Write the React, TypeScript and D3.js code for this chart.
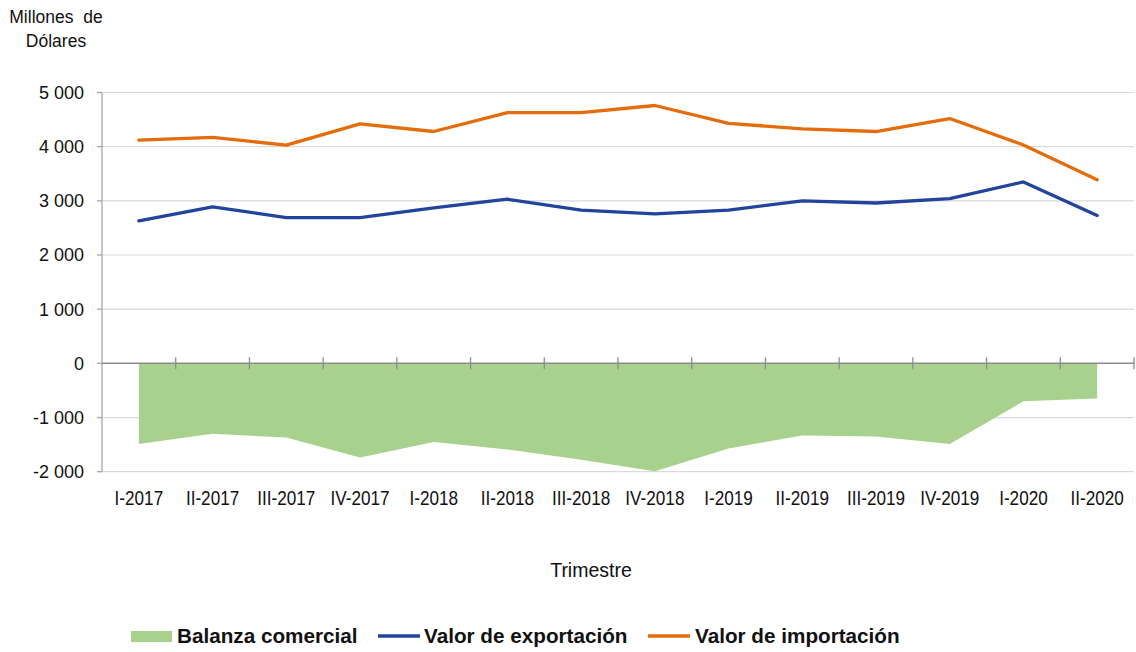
import React, { useEffect, useRef } from 'react'
import * as d3 from 'd3'

const quarters = [
  'I-2017', 'II-2017', 'III-2017', 'IV-2017',
  'I-2018', 'II-2018', 'III-2018', 'IV-2018',
  'I-2019', 'II-2019', 'III-2019', 'IV-2019',
  'I-2020', 'II-2020',
]
const exportsValue = [2630, 2890, 2690, 2690, 2870, 3030, 2830, 2760, 2830, 3000, 2960, 3040, 3350, 2730]
const importsValue = [4120, 4170, 4030, 4420, 4280, 4630, 4630, 4760, 4430, 4330, 4280, 4520, 4030, 3390]
const balance = [-1490, -1300, -1370, -1740, -1450, -1590, -1780, -1990, -1570, -1330, -1350, -1490, -700, -650]
const yTicks = [-2000, -1000, 0, 1000, 2000, 3000, 4000, 5000]

const W = 1136
const H = 652
const FONT = "'Liberation Sans', Arial, sans-serif"
const GREEN = '#A9D18E'
const BLUE = '#22449D'
const ORANGE = '#E46C0A'

const fmt = (v: number) => {
  const s = d3.format(',')(Math.abs(v)).replace(/,/g, ' ')
  return v < 0 ? '-' + s : s
}

export default function App() {
  const svgRef = useRef<SVGSVGElement>(null)

  useEffect(() => {
    if (!svgRef.current) return
    const svg = d3.select(svgRef.current)
    svg.selectAll('*').remove()

    const x = d3.scaleBand<string>().domain(quarters).range([102, 1134])
    const y = d3.scaleLinear().domain([-2000, 5000]).range([471.7, 92.5])
    const cx = (q: string) => (x(q) as number) + x.bandwidth() / 2
    const left = 102
    const right = 1134

    // gridlines
    svg
      .append('g')
      .selectAll('line')
      .data(yTicks.filter((t) => t !== 0))
      .join('line')
      .attr('x1', left)
      .attr('x2', right)
      .attr('y1', (d) => y(d))
      .attr('y2', (d) => y(d))
      .attr('stroke', '#D9D9D9')
      .attr('stroke-width', 1.2)

    // balance area
    const area = d3
      .area<number>()
      .x((_, i) => cx(quarters[i]))
      .y0(y(0))
      .y1((d) => y(d))
    svg.append('path').datum(balance).attr('d', area).attr('fill', GREEN)

    // y axis
    svg
      .append('line')
      .attr('x1', left)
      .attr('x2', left)
      .attr('y1', y(5000))
      .attr('y2', y(-2000))
      .attr('stroke', '#A6A6A6')
      .attr('stroke-width', 1.3)
    const yAxis = svg.append('g')
    yAxis
      .selectAll('line')
      .data(yTicks)
      .join('line')
      .attr('x1', left - 5)
      .attr('x2', left)
      .attr('y1', (d) => y(d))
      .attr('y2', (d) => y(d))
      .attr('stroke', '#A6A6A6')
      .attr('stroke-width', 1.3)
    yAxis
      .selectAll('text')
      .data(yTicks)
      .join('text')
      .attr('x', 84)
      .attr('y', (d) => y(d))
      .attr('dy', '0.36em')
      .attr('text-anchor', 'end')
      .attr('font-family', FONT)
      .attr('font-size', 18)
      .attr('fill', '#111')
      .text((d) => fmt(d))

    // zero axis with category ticks
    svg
      .append('line')
      .attr('x1', left)
      .attr('x2', right)
      .attr('y1', y(0))
      .attr('y2', y(0))
      .attr('stroke', '#8C8C8C')
      .attr('stroke-width', 1.5)
    svg
      .append('g')
      .selectAll('line')
      .data(quarters)
      .join('line')
      .attr('x1', (d) => (x(d) as number) + x.bandwidth())
      .attr('x2', (d) => (x(d) as number) + x.bandwidth())
      .attr('y1', y(0) - 6)
      .attr('y2', y(0) + 6)
      .attr('stroke', '#8C8C8C')
      .attr('stroke-width', 1.3)

    // lines
    const line = d3
      .line<number>()
      .x((_, i) => cx(quarters[i]))
      .y((d) => y(d))
    svg
      .append('path')
      .datum(exportsValue)
      .attr('d', line)
      .attr('fill', 'none')
      .attr('stroke', BLUE)
      .attr('stroke-width', 3.3)
      .attr('stroke-linecap', 'round')
      .attr('stroke-linejoin', 'round')
    svg
      .append('path')
      .datum(importsValue)
      .attr('d', line)
      .attr('fill', 'none')
      .attr('stroke', ORANGE)
      .attr('stroke-width', 3.3)
      .attr('stroke-linecap', 'round')
      .attr('stroke-linejoin', 'round')

    // category labels
    svg
      .append('g')
      .selectAll('text')
      .data(quarters)
      .join('text')
      .attr('transform', (d) => `translate(${cx(d)},505) scale(0.98,1.12)`)
      .attr('text-anchor', 'middle')
      .attr('font-family', FONT)
      .attr('font-size', 17.5)
      .attr('fill', '#111')
      .text((d) => d)

    // titles
    svg
      .append('text')
      .attr('x', 591)
      .attr('y', 577)
      .attr('text-anchor', 'middle')
      .attr('font-family', FONT)
      .attr('font-size', 19.5)
      .attr('fill', '#111')
      .text('Trimestre')
    const yt = svg
      .append('text')
      .attr('text-anchor', 'middle')
      .attr('font-family', FONT)
      .attr('font-size', 17.5)
      .attr('fill', '#111')
    yt.append('tspan').attr('x', 56).attr('y', 23).attr('xml:space', 'preserve').text('Millones  de')
    yt.append('tspan').attr('x', 56).attr('y', 47).text('Dólares')

    // legend
    const legend = svg.append('g').attr('font-family', FONT).attr('font-size', 20.7).attr('font-weight', 'bold')
    legend.append('rect').attr('x', 131).attr('y', 631).attr('width', 41).attr('height', 11).attr('fill', GREEN)
    legend.append('text').attr('x', 177).attr('y', 643).attr('fill', '#111').text('Balanza comercial')
    legend
      .append('line')
      .attr('x1', 378)
      .attr('x2', 420)
      .attr('y1', 636)
      .attr('y2', 636)
      .attr('stroke', BLUE)
      .attr('stroke-width', 3.3)
    legend.append('text').attr('x', 424).attr('y', 643).attr('fill', '#111').text('Valor de exportación')
    legend
      .append('line')
      .attr('x1', 648)
      .attr('x2', 690)
      .attr('y1', 636)
      .attr('y2', 636)
      .attr('stroke', ORANGE)
      .attr('stroke-width', 3.3)
    legend.append('text').attr('x', 695).attr('y', 643).attr('fill', '#111').text('Valor de importación')
  }, [])

  return (
    <svg
      ref={svgRef}
      width={W}
      height={H}
      style={{ position: 'absolute', left: 0, top: 0, background: '#fff', display: 'block' }}
    />
  )
}
